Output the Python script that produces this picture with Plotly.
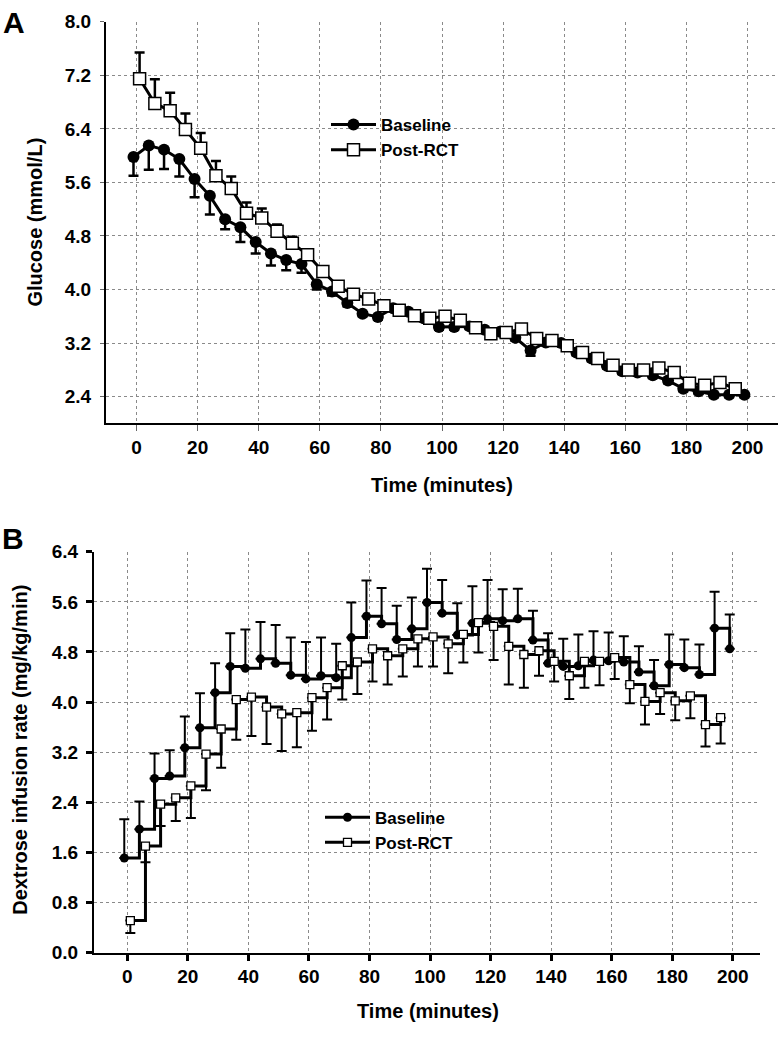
import plotly.graph_objects as go

# ---------------- Panel A: glucose ----------------
time_a_base = [-1, 4, 9, 14, 19, 24, 29, 34, 39, 44, 49, 54, 59, 64, 69, 74, 79, 84, 89, 94,
               99, 104, 109, 114, 119, 124, 129, 134, 139, 144, 149, 154, 159, 164, 169, 174,
               179, 184, 189, 194, 199]
glu_base = [5.98, 6.15, 6.09, 5.95, 5.65, 5.40, 5.05, 4.93, 4.71, 4.54, 4.44, 4.38, 4.08, 3.97,
            3.80, 3.64, 3.59, 3.72, 3.67, 3.57, 3.44, 3.44, 3.45, 3.40, 3.37, 3.28, 3.09, 3.21,
            3.20, 3.06, 2.97, 2.86, 2.78, 2.76, 2.72, 2.64, 2.52, 2.48, 2.43, 2.43, 2.43]
glu_base_se = [0.28, 0.36, 0.29, 0.26, 0.27, 0.28, 0.15, 0.22, 0.17, 0.18, 0.15, 0.13, 0.08, 0.06,
               0.05, 0.04, 0.04, 0.04, 0.04, 0.04, 0.04, 0.04, 0.04, 0.04, 0.04, 0.04, 0.08, 0.04,
               0.04, 0.04, 0.04, 0.04, 0.04, 0.04, 0.04, 0.04, 0.04, 0.04, 0.04, 0.04, 0.04]

time_a_post = [1, 6, 11, 16, 21, 26, 31, 36, 41, 46, 51, 56, 61, 66, 71, 76, 81, 86, 91, 96,
               101, 106, 111, 116, 121, 126, 131, 136, 141, 146, 151, 156, 161, 166, 171, 176,
               181, 186, 191, 196]
glu_post = [7.15, 6.78, 6.67, 6.39, 6.11, 5.70, 5.51, 5.14, 5.07, 4.87, 4.69, 4.52, 4.27, 4.05,
            3.93, 3.86, 3.76, 3.69, 3.61, 3.57, 3.60, 3.54, 3.43, 3.34, 3.36, 3.41, 3.27, 3.24,
            3.16, 3.06, 2.97, 2.87, 2.80, 2.80, 2.83, 2.76, 2.60, 2.57, 2.61, 2.52]
glu_post_se = [0.39, 0.36, 0.27, 0.24, 0.23, 0.22, 0.18, 0.16, 0.14, 0.10, 0.10, 0.08, 0.05, 0.04,
               0.04, 0.04, 0.04, 0.04, 0.04, 0.04, 0.04, 0.04, 0.04, 0.04, 0.04, 0.04, 0.04, 0.04,
               0.04, 0.04, 0.04, 0.04, 0.04, 0.04, 0.04, 0.04, 0.04, 0.04, 0.04, 0.04]

# ---------------- Panel B: dextrose infusion rate ----------------
time_b_base = time_a_base
gir_base = [1.51, 1.97, 2.78, 2.82, 3.27, 3.59, 4.15, 4.57, 4.54, 4.69, 4.62, 4.43, 4.37, 4.42,
            4.39, 5.03, 5.37, 5.25, 5.00, 5.17, 5.59, 5.42, 5.07, 5.26, 5.33, 5.30, 5.33, 4.99,
            4.62, 4.57, 4.58, 4.67, 4.66, 4.64, 4.48, 4.26, 4.60, 4.55, 4.44, 5.18, 4.85]
gir_base_se = [0.62, 0.44, 0.40, 0.41, 0.50, 0.55, 0.47, 0.53, 0.62, 0.59, 0.61, 0.60, 0.59, 0.61,
               0.54, 0.56, 0.57, 0.57, 0.54, 0.50, 0.54, 0.53, 0.51, 0.59, 0.62, 0.50, 0.48, 0.47,
               0.48, 0.44, 0.50, 0.46, 0.45, 0.41, 0.41, 0.41, 0.48, 0.45, 0.48, 0.58, 0.55]

time_b_post = time_a_post
gir_post = [0.51, 1.70, 2.37, 2.47, 2.66, 3.17, 3.57, 4.04, 4.08, 3.92, 3.81, 3.83, 4.07, 4.23,
            4.58, 4.64, 4.85, 4.74, 4.85, 5.01, 5.04, 4.93, 5.08, 5.27, 5.21, 4.89, 4.76, 4.82,
            4.65, 4.42, 4.65, 4.65, 4.71, 4.28, 4.01, 4.15, 4.02, 4.10, 3.64, 3.75]
gir_post_se = [0.20, 0.26, 0.35, 0.37, 0.51, 0.58, 0.62, 0.64, 0.62, 0.59, 0.59, 0.55, 0.53, 0.51,
               0.54, 0.51, 0.52, 0.46, 0.44, 0.44, 0.47, 0.47, 0.45, 0.48, 0.54, 0.61, 0.53, 0.40,
               0.32, 0.37, 0.42, 0.38, 0.34, 0.30, 0.37, 0.34, 0.31, 0.36, 0.35, 0.41]

x_ticks = [0, 20, 40, 60, 80, 100, 120, 140, 160, 180, 200]
y_ticks_a = [2.4, 3.2, 4.0, 4.8, 5.6, 6.4, 7.2, 8.0]
y_ticks_b = [0.0, 0.8, 1.6, 2.4, 3.2, 4.0, 4.8, 5.6, 6.4]
series_names = ["Baseline", "Post-RCT"]

W, H = 782, 1037
FONT = "Liberation Sans, Arial, Helvetica, sans-serif"


def fx(p):
    return p / W


def fy(p):
    return 1 - p / H


def err(plus, minus, thick, width):
    return dict(type="data", array=plus, arrayminus=minus, symmetric=False,
                color="black", thickness=thick, width=width)


fig = go.Figure()

fig.add_trace(go.Scatter(
    x=time_a_base, y=glu_base, mode="lines+markers", name=series_names[0],
    line=dict(color="black", width=3),
    marker=dict(symbol="circle", size=12, color="black"),
    error_y=err([0] * len(glu_base), glu_base_se, 2.5, 5),
    xaxis="x", yaxis="y", legend="legend"))
fig.add_trace(go.Scatter(
    x=time_a_post, y=glu_post, mode="lines+markers", name=series_names[1],
    line=dict(color="black", width=3),
    marker=dict(symbol="square", size=12, color="white", line=dict(color="black", width=1.5)),
    error_y=err(glu_post_se, [0] * len(glu_post), 2.5, 5),
    xaxis="x", yaxis="y", legend="legend"))

fig.add_trace(go.Scatter(
    x=time_b_base, y=gir_base, mode="lines+markers", name=series_names[0],
    line=dict(color="black", width=3, shape="hv"),
    marker=dict(symbol="circle", size=9, color="black"),
    error_y=err(gir_base_se, [0] * len(gir_base), 2, 5),
    xaxis="x2", yaxis="y2", legend="legend2"))
fig.add_trace(go.Scatter(
    x=time_b_post, y=gir_post, mode="lines+markers", name=series_names[1],
    line=dict(color="black", width=3, shape="hv"),
    marker=dict(symbol="square", size=8, color="white", line=dict(color="black", width=1.3)),
    error_y=err([0] * len(gir_post), gir_post_se, 2, 5),
    xaxis="x2", yaxis="y2", legend="legend2"))

grid = dict(showgrid=True, gridcolor="#8a8a8a", gridwidth=1, griddash="dot", zeroline=False,
            showline=True, linecolor="black", linewidth=2,
            tickfont=dict(family=FONT, size=19, color="black", weight="bold"))

fig.update_layout(
    width=W, height=H,
    margin=dict(l=0, r=0, t=0, b=0),
    paper_bgcolor="white", plot_bgcolor="white",
    font=dict(family=FONT, color="black", weight="bold"),
    xaxis=dict(domain=[fx(106), fx(778)], range=[-10, 210], anchor="y",
               tickmode="array", tickvals=x_ticks,
               ticks="outside", ticklen=6, tickwidth=1, tickcolor="#666", **grid),
    yaxis=dict(domain=[fy(422), fy(12)], range=[2.0, 8.0], anchor="x",
               tickmode="array", tickvals=y_ticks_a, tickformat=".1f",
               ticks="outside", ticklen=4, tickwidth=1, tickcolor="#666",
               ticklabelstandoff=5, **grid),
    xaxis2=dict(domain=[fx(94), fx(760)], range=[-11, 209], anchor="y2",
                tickmode="array", tickvals=x_ticks,
                ticks="outside", ticklen=6, tickwidth=2.5, tickcolor="black", **grid),
    yaxis2=dict(domain=[fy(962), fy(553)], range=[0, 6.4], anchor="x2",
                tickmode="array", tickvals=y_ticks_b, tickformat=".1f",
                ticks="outside", ticklen=6, tickwidth=2.5, tickcolor="black",
                ticklabelstandoff=4, **grid),
    legend=dict(x=fx(326), y=fy(99), xanchor="left", yanchor="top",
                bgcolor="rgba(0,0,0,0)", itemwidth=45, tracegroupgap=0,
                font=dict(family=FONT, size=17, color="black", weight="bold")),
    legend2=dict(x=fx(320), y=fy(806), xanchor="left", yanchor="top",
                 bgcolor="rgba(0,0,0,0)", itemwidth=45, tracegroupgap=0,
                 font=dict(family=FONT, size=17, color="black", weight="bold")),
    showlegend=True,
)

ann = [
    dict(text="A", x=fx(14), y=fy(13), size=30),
    dict(text="B", x=fx(13), y=fy(539), size=30),
    dict(text="Time (minutes)", x=fx(442), y=fy(485), size=20),
    dict(text="Time (minutes)", x=fx(428), y=fy(1022), size=20),
]
for a in ann:
    fig.add_annotation(text=a["text"], x=a["x"], y=a["y"], xref="paper", yref="paper",
                       xanchor="center", yanchor="middle", showarrow=False,
                       font=dict(family=FONT, size=a["size"], color="black", weight="bold"))
for text, x, y in [("Glucose (mmol/L)", 35, 217), ("Dextrose infusion rate (mg/kg/min)", 20, 755)]:
    fig.add_annotation(text=text, x=fx(x), y=fy(y), xref="paper", yref="paper",
                       xanchor="center", yanchor="middle", showarrow=False, textangle=-90,
                       font=dict(family=FONT, size=20, color="black", weight="bold"))

fig.write_html("out.html", config={"displayModeBar": False},
               post_script="document.body.style.margin='0';document.body.style.overflow='hidden';")
